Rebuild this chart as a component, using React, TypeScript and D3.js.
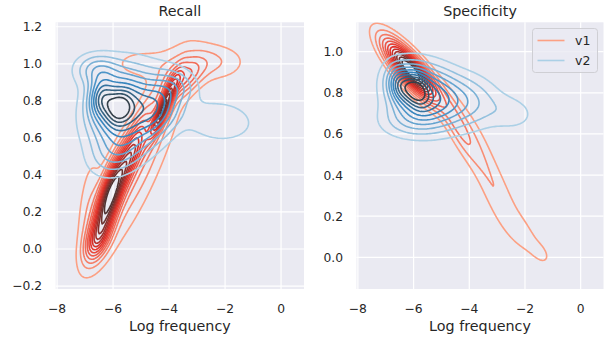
import React from "react";
import * as d3 from "d3";

const W = 613;
const H = 341;

const xTicks = [-8, -6, -4, -2, 0];
const recallTicks = [-0.2, 0, 0.2, 0.4, 0.6, 0.8, 1.0, 1.2];
const specTicks = [0, 0.2, 0.4, 0.6, 0.8, 1.0];
const xDomain = [-8.05, 0.82];
const recallDomain = [-0.216, 1.224];
const specDomain = [-0.154, 1.143];

// KDE read off the figure as a few gaussian bumps:
// [centre x, centre y, spread x, spread y, correlation, relative peak]
const recallV1 = [
  [-6.15, 0.27, 0.38, 0.15, 0.72, 1.0],
  [-6.55, 0.05, 0.32, 0.08, 0.5, 0.4],
  [-5.35, 0.52, 0.42, 0.14, 0.8, 0.55],
  [-4.2, 0.76, 0.3, 0.1, 0.88, 0.85],
  [-3.5, 0.92, 0.5, 0.07, 0.5, 0.35],
  [-5.0, 0.5, 1.1, 0.36, 0.85, 0.25],
  [-6.9, 0.25, 0.3, 0.2, 0.5, 0.12],
  [-2.4, 1.01, 0.8, 0.07, 0, 0.17],
  [-5.0, 1.0, 0.8, 0.06, 0, 0.12],
];
const recallV2 = [
  [-6.45, 0.82, 0.3, 0.07, 0.1, 0.35],
  [-5.8, 0.76, 0.35, 0.07, 0.1, 0.32],
  [-5.7, 0.77, 0.8, 0.14, 0.2, 0.7],
  [-4.4, 0.76, 0.6, 0.12, 0.3, 0.45],
  [-2.2, 0.69, 0.9, 0.08, -0.1, 0.18],
  [-6.6, 0.97, 0.55, 0.06, 0, 0.28],
  [-5.8, 0.52, 0.7, 0.09, 0.3, 0.24],
  [-3.6, 0.88, 0.5, 0.06, 0, 0.14],
];
const specV1 = [
  [-6.1, 0.91, 0.65, 0.1, -0.82, 1.0],
  [-4.4, 0.64, 0.5, 0.12, -0.8, 0.22],
  [-3.4, 0.43, 0.6, 0.2, -0.8, 0.11],
  [-2.6, 0.22, 0.5, 0.14, -0.75, 0.075],
  [-1.9, 0.1, 0.4, 0.08, -0.7, 0.08],
  [-1.4, 0.02, 0.25, 0.04, -0.5, 0.07],
];
const specV2 = [
  [-6.5, 0.84, 0.3, 0.06, -0.2, 0.35],
  [-5.9, 0.82, 0.3, 0.06, -0.2, 0.35],
  [-5.6, 0.79, 0.85, 0.1, -0.2, 0.6],
  [-4.0, 0.76, 0.8, 0.09, -0.1, 0.22],
  [-2.4, 0.7, 0.6, 0.06, -0.1, 0.11],
  [-6.2, 0.66, 0.8, 0.06, 0, 0.16],
];

const redLevels = [13, 12];
const blueLevels = [10, 10];

const reds = d3.piecewise(d3.interpolateRgb, ["#fca083", "#e32f27", "#333333"]);
const blues = d3.piecewise(d3.interpolateRgb, ["#abd0e6", "#3787c0", "#333333"]);

const FONT = "DejaVu Sans, sans-serif";
const INK = "#262626";

function density(comps: number[][], x: number, y: number) {
  let s = 0;
  for (const [mx, my, sx, sy, r, w] of comps) {
    const dx = (x - mx) / sx;
    const dy = (y - my) / sy;
    const q = (dx * dx - 2 * r * dx * dy + dy * dy) / (1 - r * r);
    s += w * Math.exp(-0.5 * q);
  }
  return s;
}

function Panel({ id, left, right, top, bottom, yDomain, yTicks, title, series, legend }: any) {
  const x = d3.scaleLinear().domain(xDomain).range([left, right]);
  const y = d3.scaleLinear().domain(yDomain).range([bottom, top]);
  const step = 1.5;
  const pad = 6;
  const x0 = left - pad;
  const y0 = top - pad;
  const nx = Math.ceil((right - left + 2 * pad) / step) + 1;
  const ny = Math.ceil((bottom - top + 2 * pad) / step) + 1;
  const path = d3.geoPath(d3.geoIdentity().scale(step).translate([x0 - step / 2, y0 - step / 2]) as any);

  const layers = series.map((s: any) => {
    const vals = new Array(nx * ny);
    for (let j = 0; j < ny; j++) {
      for (let i = 0; i < nx; i++) {
        vals[j * nx + i] = density(s.comps, x.invert(x0 + i * step), y.invert(y0 + j * step));
      }
    }
    const max = d3.max(vals) as number;
    const n = s.levels;
    const th = d3.range(1, n + 1).map((k) => (k * max) / (n + 1.5));
    const cs = d3.contours().size([nx, ny]).thresholds(th)(vals);
    return cs.map((c, k) => ({ d: path(c as any), color: s.pal((k / (n - 1)) * 0.92) }));
  });

  return (
    <g>
      <rect x={left} y={top} width={right - left} height={bottom - top} fill="#EAEAF2" />
      {xTicks.map((t) => (
        <line key={"gx" + t} x1={x(t)} x2={x(t)} y1={top} y2={bottom} stroke="#fff" strokeWidth={1.2} />
      ))}
      {yTicks.map((t: number) => (
        <line key={"gy" + t} x1={left} x2={right} y1={y(t)} y2={y(t)} stroke="#fff" strokeWidth={1.2} />
      ))}
      <clipPath id={id}>
        <rect x={left} y={top} width={right - left} height={bottom - top} />
      </clipPath>
      <g clipPath={`url(#${id})`}>
        {layers.map((ls: any[], si: number) =>
          ls.map((l, k) => (
            <path key={si + "-" + k} d={l.d} fill="none" stroke={l.color} strokeWidth={1.6} strokeLinejoin="round" />
          ))
        )}
      </g>
      {xTicks.map((t) => (
        <text key={"tx" + t} x={x(t)} y={313} textAnchor="middle" fontSize={12.3} fill={INK} fontFamily={FONT}>
          {t < 0 ? "\u2212" + Math.abs(t) : t}
        </text>
      ))}
      {yTicks.map((t: number) => (
        <text key={"ty" + t} x={left - 13.5} y={y(t)} dy="0.36em" textAnchor="end" fontSize={12.3} fill={INK} fontFamily={FONT}>
          {t < 0 ? "\u2212" + Math.abs(t).toFixed(1) : t.toFixed(1)}
        </text>
      ))}
      <text x={(left + right) / 2} y={15.5} textAnchor="middle" fontSize={14.3} fill={INK} fontFamily={FONT}>
        {title}
      </text>
      <text x={(left + right) / 2} y={330.5} textAnchor="middle" fontSize={14.3} fill={INK} fontFamily={FONT}>
        Log frequency
      </text>
      {legend && (
        <g fontFamily={FONT} fontSize={12.5} fill={INK}>
          <rect x={532.5} y={28.5} width={65} height={44} rx={3} fill="#EAEAF2" fillOpacity={0.8} stroke="#cfcfd4" />
          <line x1={537.5} x2={564.5} y1={40.5} y2={40.5} stroke={reds(0)} strokeWidth={1.6} />
          <text x={575} y={45}>v1</text>
          <line x1={537.5} x2={564.5} y1={60.5} y2={60.5} stroke={blues(0)} strokeWidth={1.6} />
          <text x={575} y={65}>v2</text>
        </g>
      )}
    </g>
  );
}

export default function App() {
  return (
    <svg width={W} height={H} style={{ display: "block", position: "absolute", left: 0, top: 0 }}>
      <rect width={W} height={H} fill="#fff" />
      <Panel
        id="clipL"
        left={55.7}
        right={304}
        top={22.3}
        bottom={289}
        yDomain={recallDomain}
        yTicks={recallTicks}
        title="Recall"
        series={[
          { comps: recallV1, levels: redLevels[0], pal: reds },
          { comps: recallV2, levels: blueLevels[0], pal: blues },
        ]}
      />
      <Panel
        id="clipR"
        left={356.5}
        right={603.5}
        top={22.3}
        bottom={289}
        yDomain={specDomain}
        yTicks={specTicks}
        title="Specificity"
        legend
        series={[
          { comps: specV1, levels: redLevels[1], pal: reds },
          { comps: specV2, levels: blueLevels[1], pal: blues },
        ]}
      />
    </svg>
  );
}
